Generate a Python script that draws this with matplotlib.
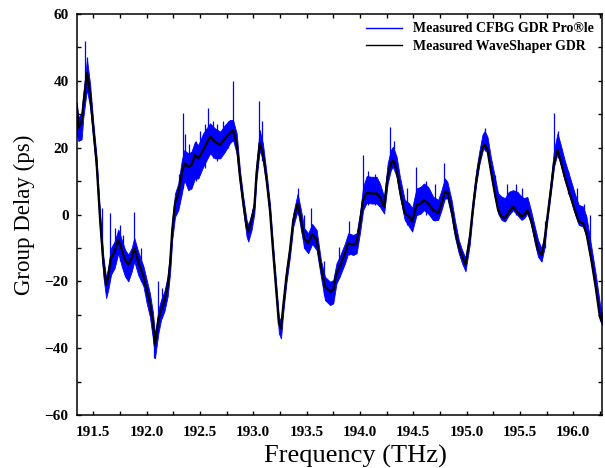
import numpy as np
import matplotlib
matplotlib.use('Agg')
import matplotlib.pyplot as plt
from matplotlib.lines import Line2D
from matplotlib.ticker import MultipleLocator, FormatStrFormatter

plt.rcParams['font.family'] = ['Liberation Serif', 'DejaVu Serif']

# black trace: measured WaveShaper GDR
freq = [191.345, 191.36, 191.39, 191.406, 191.44, 191.47, 191.50, 191.53, 191.563, 191.594,
        191.62, 191.64, 191.666, 191.70, 191.734, 191.766, 191.797, 191.828, 191.86, 191.884,
        191.92, 191.97, 192.00, 192.03, 192.06, 192.078, 192.11, 192.135, 192.166, 192.197,
        192.22, 192.24, 192.266, 192.297, 192.33, 192.353, 192.39, 192.42, 192.453, 192.484,
        192.53, 192.594, 192.64, 192.69, 192.734, 192.78, 192.81, 192.844, 192.875, 192.906,
        192.937, 192.953, 192.984, 193.01, 193.03, 193.06, 193.09, 193.125, 193.156, 193.187,
        193.22, 193.24, 193.26, 193.28, 193.31, 193.344, 193.375, 193.416, 193.447, 193.478,
        193.515, 193.552, 193.594, 193.634, 193.672, 193.72, 193.75, 193.78, 193.81, 193.86,
        193.89, 193.937, 193.969, 194.00, 194.03, 194.063, 194.11, 194.156, 194.187, 194.227,
        194.26, 194.29, 194.31, 194.344, 194.375, 194.42, 194.46, 194.49, 194.53, 194.57,
        194.60, 194.64, 194.687, 194.734, 194.765, 194.796, 194.82, 194.86, 194.89, 194.927,
        194.958, 194.99, 195.03, 195.06, 195.09, 195.12, 195.15, 195.17, 195.196, 195.227,
        195.265, 195.296, 195.328, 195.36, 195.396, 195.436, 195.477, 195.515, 195.54, 195.57,
        195.603, 195.64, 195.67, 195.703, 195.727, 195.759, 195.79, 195.82, 195.853, 195.884,
        195.92, 195.968, 196.015, 196.052, 196.092, 196.124, 196.17, 196.21, 196.25, 196.27]
gd_ws = [33.0, 26.0, 27.5, 33.0, 42.5, 36.0, 25.5, 15.5, -1.5, -14.5,
         -21.0, -18.5, -13.0, -11.0, -7.5, -10.5, -13.5, -15.0, -13.0, -10.0,
         -14.0, -18.5, -22.5, -26.5, -32.5, -39.0, -31.5, -28.5, -26.0, -21.5,
         -14.5, -4.5, 3.3, 6.3, 12.3, 15.3, 14.3, 14.8, 17.8, 16.8,
         19.3, 23.3, 21.8, 20.8, 22.8, 24.3, 25.3, 21.3, 11.3, 3.3,
         -3.6, -5.1, -1.6, 2.3, 12.3, 21.3, 18.3, 10.3, 1.3, -11.6,
         -24.6, -32.6, -34.1, -27.6, -18.6, -10.6, -1.6, 3.3, -1.6, -7.1,
         -8.6, -5.8, -7.6, -15.6, -21.6, -23.1, -22.6, -17.6, -15.6, -11.6,
         -8.6, -9.1, -8.6, -2.6, 4.3, 6.5, 6.3, 6.3, 5.3, 2.3,
         11.3, 15.3, 16.3, 13.3, 7.3, 0.4, -0.6, -2.1, 2.8, 3.3,
         4.3, 3.3, 1.3, 0.4, 3.3, 6.8, 6.8, 1.3, -4.6, -9.6,
         -12.6, -15.0, -7.0, 2.0, 10.0, 16.0, 20.0, 21.0, 19.3, 13.3,
         6.3, 1.3, -0.6, -1.1, 0.8, 2.3, 0.8, -0.6, -0.1, 1.3,
         -1.6, -6.6, -10.6, -12.1, -8.6, -0.6, 7.3, 15.3, 19.3, 15.8,
         11.3, 6.3, 1.3, -2.1, -2.6, -5.6, -13.6, -21.6, -30.6, -32.0]

# blue trace: CFBG profile band around the black trace (spread above / below, ps)
cfbg_up = [0, 3, 3, 3, 4, 3, 2, 2, 2, 2,
           2, 3, 3, 3, 3, 3, 3, 3, 3, 3,
           3, 3, 3, 3, 3, 3, 3, 3, 3, 3,
           3, 3, 3, 3, 4, 4, 4, 4, 4, 4,
           5, 4, 4, 4, 4, 4, 3, 3, 2, 2,
           2, 2, 2, 2, 3, 4, 3, 2, 2, 2,
           2, 2, 2, 2, 2, 2, 2, 3, 3, 3,
           3, 3, 3, 2, 3, 3, 3, 3, 3, 3,
           3, 3, 3, 3, 4, 5, 5, 5, 4, 3,
           4, 4, 4, 4, 4, 4, 4, 4, 5, 5,
           5, 5, 4, 4, 4, 4, 3, 3, 3, 2,
           2, 2, 2, 3, 3, 3, 4, 4, 4, 4,
           5, 5, 6, 6, 6, 5, 6, 6, 5, 4,
           3, 3, 3, 2, 2, 2, 3, 4, 5, 5,
           5, 5, 5, 5, 5, 5, 4, 4, 4, 2]
cfbg_down = [9, 4, 5, 4, 5, 4, 3, 3, 3, 4,
             4, 4, 5, 5, 4, 5, 5, 5, 4, 4,
             4, 3, 4, 4, 5, 4, 4, 3, 3, 3,
             3, 3, 4, 5, 6, 5, 7, 7, 7, 6,
             5, 5, 5, 4, 4, 3, 3, 3, 2, 2,
             3, 3, 3, 2, 2, 2, 2, 2, 2, 2,
             2, 3, 3, 2, 2, 2, 2, 2, 3, 3,
             3, 3, 3, 3, 4, 4, 4, 3, 3, 3,
             3, 3, 3, 3, 3, 3, 3, 3, 3, 2,
             2, 2, 2, 2, 2, 2, 3, 3, 3, 3,
             3, 3, 3, 2, 2, 2, 2, 2, 2, 2,
             2, 2, 2, 1, 1, 1, 1, 1, 1, 1,
             1, 1, 1, 1, 1, 1, 1, 1, 1, 1,
             1, 2, 2, 2, 2, 1, 1, 1, 1, 1,
             1, 1, 1, 1, 1, 1, 1, 1, 1, 1]

# isolated noise spikes on the blue trace
spike_f = [191.42, 191.445, 191.58, 191.656, 191.70, 191.75, 191.78, 191.884, 191.95, 192.07,
           192.11, 192.14, 192.30, 192.34, 192.36, 192.40, 192.46, 192.50, 192.55, 192.58,
           192.62, 192.66, 192.72, 192.76, 192.81, 193.05, 193.08, 193.42, 193.48, 193.54,
           193.66, 193.80, 193.90, 194.03, 194.08, 194.14, 194.28, 194.32, 194.44, 194.53,
           194.62, 194.70, 194.79, 195.17, 195.27, 195.38, 195.46, 195.52, 195.74, 195.82,
           195.86, 195.95, 196.04, 196.10, 196.16]
spike_lo = [38, 38, -10, -16, -14, -14, -15, -14, -20, -43,
            -33, -31, 4, 8, 10, 8, 10, 12, 14, 18,
            17, 16, 18, 20, 22, 18, 16, 0, -10, -9,
            -24, -19, -12, 3, 3, 3, 13, 14, -3, 0,
            0, -2, 4, 19, 5, -1, 0, -1, -10, 15,
            17, 6, 0, -3, -8]
spike_hi = [52, 47, 2, 0.4, -4, -3, -6, 0.8, -10, -36,
            -20, -22, 12, 30.5, 24, 21, 22, 25, 27, 32,
            28, 27, 28, 28, 40, 34, 28, 7.8, 0, 1.9,
            -14, -9.6, -2, 17.8, 13, 12, 26.3, 22, 8, 14.3,
            10, 9, 15.3, 26, 11.8, 9, 9, 8, -2, 30.3,
            25, 13, 8, 3.3, 0]

f = np.array(freq)
g = np.array(gd_ws)
lo = g - np.array(cfbg_down)
hi = g + np.array(cfbg_up)

fig = plt.figure(figsize=(6.05, 4.68), dpi=100)
ax = fig.add_axes([0.1273, 0.1132, 0.8677, 0.8568])

ax.fill_between(f, lo, hi, color='blue', lw=0.6, edgecolor='blue')
ax.vlines(spike_f, spike_lo, spike_hi, color='blue', lw=0.9)
ax.plot(f, g, color='black', lw=1.6)

ax.set_xlim(191.347, 196.27)
ax.set_ylim(-60, 60)
ax.xaxis.set_major_locator(MultipleLocator(0.5))
ax.xaxis.set_minor_locator(MultipleLocator(0.25))
ax.yaxis.set_major_locator(MultipleLocator(20))
ax.yaxis.set_minor_locator(MultipleLocator(10))
ax.xaxis.set_major_formatter(FormatStrFormatter('%.1f'))
ax.tick_params(which='both', direction='in', top=True, right=True,
               length=3, width=1, labelsize=11, pad=6)
ax.tick_params(axis='x', which='major', pad=8)
for lab in ax.get_xticklabels() + ax.get_yticklabels():
    lab.set_fontweight('bold')
for sp in ax.spines.values():
    sp.set_linewidth(1.1)

ax.set_xlabel('Frequency (THz)', fontsize=19)
ax.xaxis.set_label_coords(0.531, -0.075)
ax.set_ylabel('Group Delay (ps)', fontsize=16.5, labelpad=7)

handles = [Line2D([], [], color='blue', lw=1),
           Line2D([], [], color='black', lw=1)]
ax.legend(handles, ['Measured CFBG GDR Pro®le', 'Measured WaveShaper GDR'],
          loc='upper right', frameon=False, prop={'size': 10, 'weight': 'bold'},
          handlelength=2.6, borderaxespad=0.2, labelspacing=0.35, handletextpad=0.8)

fig.savefig('out.png', dpi=100)
